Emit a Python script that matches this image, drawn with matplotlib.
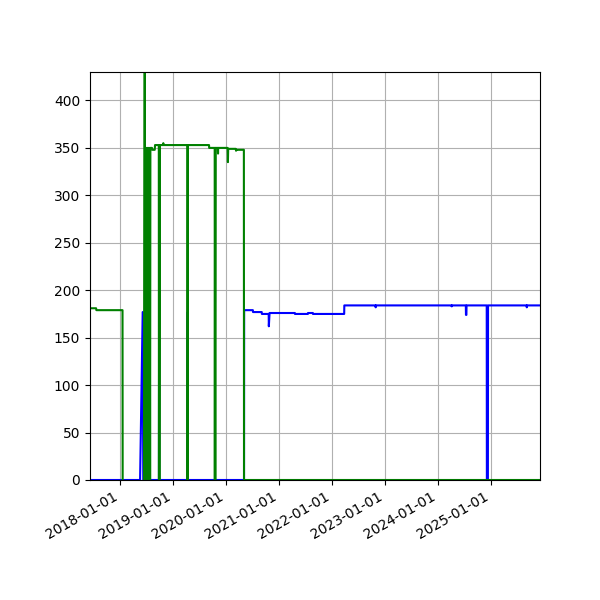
import numpy as np
import pandas as pd
import matplotlib as mpl
mpl.use('Agg')
import matplotlib.pyplot as plt
import matplotlib.dates as mdates

nan = float('nan')

# green series (points of a step-like trace, nan = no data)
green_dates = [
    "2017-06-08", "2017-07-20", "2017-07-22", "2018-01-18", "2018-01-19",
    "2018-03-01",
    "2018-06-15", "2018-06-20", "2018-06-22", "2018-06-24", "2018-06-27",
    "2018-06-30", "2018-07-03", "2018-07-06", "2018-07-09", "2018-07-12",
    "2018-07-15", "2018-07-18", "2018-07-21", "2018-07-24", "2018-07-27",
    "2018-07-29", "2018-08-09", "2018-08-11", "2018-08-28", "2018-08-30",
    "2018-09-25", "2018-09-26", "2018-09-28", "2018-09-29", "2018-09-30",
    "2018-10-25", "2018-10-26", "2018-10-27",
    "2019-04-10", "2019-04-11", "2019-04-13",
    "2019-09-06", "2019-09-07",
    "2019-10-15", "2019-10-16", "2019-10-18", "2019-10-19", "2019-10-20",
    "2019-11-06", "2019-11-07", "2019-11-08",
    "2020-01-12", "2020-01-14", "2020-01-16",
    "2020-03-08", "2020-03-10", "2020-03-12",
    "2020-05-03", "2020-05-04", "2025-12-03",
]
green_vals = [
    181, 181, 179, 179, 0,
    nan,
    0, 430, 0, 350, 0,
    350, 0, 350, 0, 350,
    0, 350, 0, 350, 0,
    350, 350, 348, 348, 353,
    353, 0, 353, 0, 353,
    353, 355, 353,
    353, 0, 353,
    353, 350,
    350, 0, 350, 0, 350,
    350, 344, 350,
    350, 335, 349,
    349, 347, 348,
    348, 0, 0,
]

# blue series
blue_dates = [
    "2017-06-08", "2018-05-19", "2018-06-06", "2018-06-10",
    "2018-09-26", "2018-09-27", "2018-09-28",
    "2019-04-11", "2019-04-12", "2019-04-13",
    "2020-05-04", "2020-05-05", "2020-07-04", "2020-07-05",
    "2020-09-03", "2020-09-04", "2020-10-21", "2020-10-22", "2020-10-27",
    "2021-04-19", "2021-04-20", "2021-07-18", "2021-07-19",
    "2021-08-21", "2021-08-22", "2022-03-25", "2022-03-26",
    "2022-10-27", "2022-10-28", "2022-10-29",
    "2024-04-03", "2024-04-04", "2024-04-05",
    "2024-07-10", "2024-07-11", "2024-07-14", "2024-07-15",
    "2024-12-01", "2024-12-02", "2024-12-09", "2024-12-10",
    "2025-09-02", "2025-09-03", "2025-09-04", "2025-12-03",
]
blue_vals = [
    0, 0, 177, 0,
    0, 177, 0,
    0, 177, 0,
    0, 179, 179, 177,
    177, 175, 175, 162, 176,
    176, 175, 175, 176,
    176, 175, 175, 184,
    184, 182, 184,
    184, 183, 184,
    184, 174, 174, 184,
    184, 0, 0, 184,
    184, 182, 184, 184,
]

gd = pd.to_datetime(green_dates)
bd = pd.to_datetime(blue_dates)

fig = plt.figure(figsize=(6, 6), dpi=100)
ax = fig.add_subplot(111)
ax.plot(bd, blue_vals, color='blue')
ax.plot(gd, green_vals, color='green')

ax.xaxis.set_major_locator(mdates.YearLocator())
ax.xaxis.set_major_formatter(mdates.DateFormatter('%Y-%m-%d'))
ax.set_xlim(gd[0], gd[-1])
ax.set_ylim(0, 430)
ax.grid(True)
fig.autofmt_xdate()
fig.subplots_adjust(left=0.15)

plt.savefig("out.png")
